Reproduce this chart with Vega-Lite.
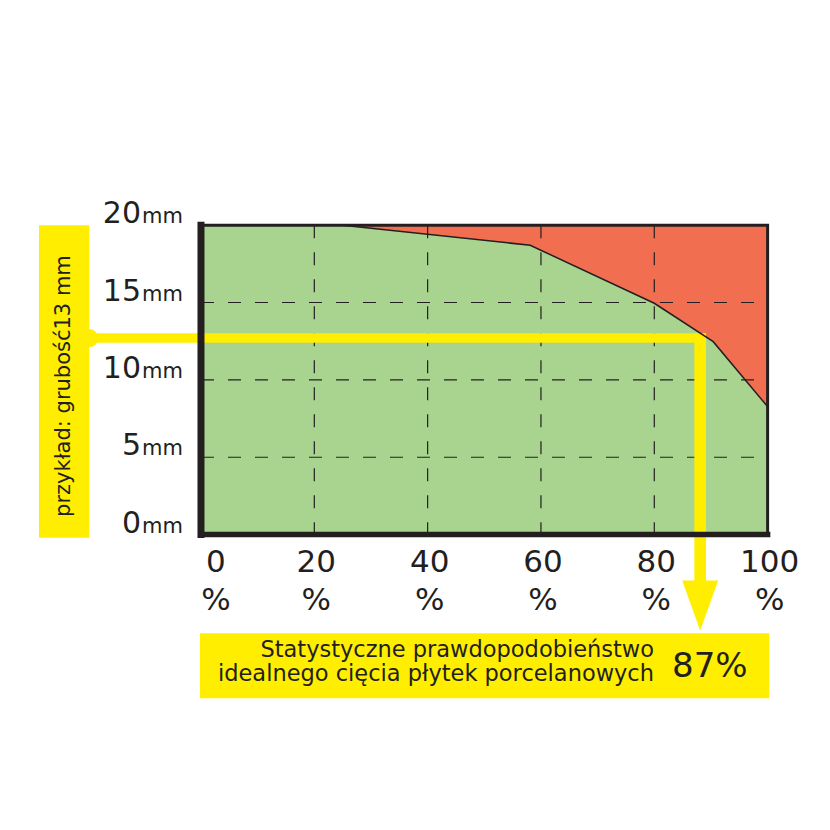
{
  "$schema": "https://vega.github.io/schema/vega-lite/v6.json",
  "width": 830,
  "height": 830,
  "autosize": {"type": "none"},
  "padding": 0,
  "background": "white",
  "config": {"view": {"stroke": null}, "text": {"font": "DejaVu Sans", "color": "#231F20"}},
  "datasets": {
    "boundary": [
      {"p": 0, "t": 20},
      {"p": 25, "t": 20},
      {"p": 58.1, "t": 18.7},
      {"p": 80, "t": 14.95},
      {"p": 90.4, "t": 12.47},
      {"p": 100, "t": 8.27}
    ],
    "hgrid": [{"t": 5}, {"t": 10}, {"t": 15}],
    "vgrid": [{"p": 20}, {"p": 40}, {"p": 60}, {"p": 80}],
    "ylabels": [
      {"t": 0, "n": "0"},
      {"t": 5, "n": "5"},
      {"t": 10, "n": "10"},
      {"t": 15, "n": "15"},
      {"t": 20, "n": "20"}
    ],
    "xlabels": [
      {"p": 0, "n": "0"},
      {"p": 20, "n": "20"},
      {"p": 40, "n": "40"},
      {"p": 60, "n": "60"},
      {"p": 80, "n": "80"},
      {"p": 100, "n": "100"}
    ],
    "one": [{"k": 1}],
    "caption": [{"lines": "Statystyczne prawdopodobieństwo\nidealnego cięcia płytek porcelanowych", "value": "87%", "example": "przykład: grubość13 mm"}]
  },
  "layer": [
    {
      "data": {"name": "one"},
      "mark": {"type": "rect", "color": "#FFEE00"},
      "encoding": {
        "x": {"datum": -0.18, "type": "quantitative", "scale": {"domain": [-35.47, 111.01], "nice": false, "zero": false}, "axis": null},
        "x2": {"datum": 100.3},
        "y": {"datum": -6.38, "type": "quantitative", "scale": {"domain": [-19.09, 34.55], "nice": false, "zero": false}, "axis": null},
        "y2": {"datum": -10.58}
      }
    },
    {
      "data": {"name": "one"},
      "mark": {"type": "rect", "color": "#FFEE00"},
      "encoding": {
        "x": {"datum": -28.59, "type": "quantitative"},
        "x2": {"datum": -19.71},
        "y": {"datum": -0.2, "type": "quantitative"},
        "y2": {"datum": 20}
      }
    },
    {
      "data": {"name": "one"},
      "mark": {"type": "rect", "color": "#A9D490"},
      "encoding": {
        "x": {"datum": 0, "type": "quantitative"},
        "x2": {"datum": 100},
        "y": {"datum": 0, "type": "quantitative"},
        "y2": {"datum": 20}
      }
    },
    {
      "data": {"name": "boundary"},
      "mark": {"type": "area", "color": "#F26E50", "interpolate": "linear"},
      "encoding": {
        "x": {"field": "p", "type": "quantitative"},
        "y": {"field": "t", "type": "quantitative"},
        "y2": {"datum": 20}
      }
    },
    {
      "data": {"name": "hgrid"},
      "mark": {"type": "rule", "color": "#231F20", "strokeWidth": 1.2, "strokeDash": [13, 14]},
      "encoding": {
        "x": {"datum": 0, "type": "quantitative"},
        "x2": {"datum": 100},
        "y": {"field": "t", "type": "quantitative"}
      }
    },
    {
      "data": {"name": "vgrid"},
      "mark": {"type": "rule", "color": "#231F20", "strokeWidth": 1.2, "strokeDash": [13, 14]},
      "encoding": {
        "x": {"field": "p", "type": "quantitative"},
        "y": {"datum": 20, "type": "quantitative"},
        "y2": {"datum": 0}
      }
    },
    {
      "data": {"name": "one"},
      "mark": {"type": "rule", "color": "#FFEE00", "strokeWidth": 9.5},
      "encoding": {
        "x": {"datum": -19.77, "type": "quantitative"},
        "x2": {"datum": 89.13},
        "y": {"datum": 12.7, "type": "quantitative"}
      }
    },
    {
      "data": {"name": "one"},
      "mark": {"type": "rule", "color": "#FFEE00", "strokeWidth": 11.7},
      "encoding": {
        "x": {"datum": 88.1, "type": "quantitative"},
        "y": {"datum": 13.0, "type": "quantitative"},
        "y2": {"datum": -3.0}
      }
    },
    {
      "data": {"name": "one"},
      "mark": {"type": "point", "shape": "circle", "filled": true, "color": "#FFEE00", "opacity": 1, "size": 324},
      "encoding": {
        "x": {"datum": -19.7, "type": "quantitative"},
        "y": {"datum": 12.7, "type": "quantitative"}
      }
    },
    {
      "data": {"name": "one"},
      "mark": {"type": "point", "shape": "M-0.72,-1L0.72,-1L0,1Z", "filled": true, "color": "#FFEE00", "opacity": 1, "size": 2500},
      "encoding": {
        "x": {"datum": 88.1, "type": "quantitative"},
        "y": {"datum": -4.58, "type": "quantitative"}
      }
    },
    {
      "data": {"name": "boundary"},
      "mark": {"type": "line", "color": "#231F20", "strokeWidth": 1.5},
      "encoding": {
        "x": {"field": "p", "type": "quantitative"},
        "y": {"field": "t", "type": "quantitative"}
      }
    },
    {
      "data": {"name": "one"},
      "mark": {"type": "rect", "fill": null, "fillOpacity": 0, "stroke": "#231F20", "strokeWidth": 3},
      "encoding": {
        "x": {"datum": 0, "type": "quantitative"},
        "x2": {"datum": 100},
        "y": {"datum": 0, "type": "quantitative"},
        "y2": {"datum": 20}
      }
    },
    {
      "data": {"name": "one"},
      "mark": {"type": "rule", "color": "#231F20", "strokeWidth": 7, "strokeCap": "square"},
      "encoding": {
        "x": {"datum": 0, "type": "quantitative"},
        "y": {"datum": 0, "type": "quantitative"},
        "y2": {"datum": 20}
      }
    },
    {
      "data": {"name": "one"},
      "mark": {"type": "rule", "color": "#231F20", "strokeWidth": 5.5, "strokeCap": "square"},
      "encoding": {
        "x": {"datum": 0, "type": "quantitative"},
        "x2": {"datum": 100},
        "y": {"datum": 0, "type": "quantitative"}
      }
    },
    {
      "data": {"name": "ylabels"},
      "mark": {"type": "text", "fontSize": 30, "align": "right", "baseline": "alphabetic", "dx": -60, "dy": -2},
      "encoding": {
        "x": {"datum": 0, "type": "quantitative"},
        "y": {"field": "t", "type": "quantitative"},
        "text": {"field": "n"}
      }
    },
    {
      "data": {"name": "ylabels"},
      "mark": {"type": "text", "fontSize": 21, "align": "left", "baseline": "alphabetic", "dx": -59, "dy": -2},
      "encoding": {
        "x": {"datum": 0, "type": "quantitative"},
        "y": {"field": "t", "type": "quantitative"},
        "text": {"value": "mm"}
      }
    },
    {
      "data": {"name": "xlabels"},
      "transform": [{"filter": "datum.p > 0"}],
      "mark": {"type": "text", "fontSize": 31, "align": "center", "baseline": "alphabetic", "dx": 2, "dy": 37},
      "encoding": {
        "x": {"field": "p", "type": "quantitative"},
        "y": {"datum": 0, "type": "quantitative"},
        "text": {"field": "n"}
      }
    },
    {
      "data": {"name": "xlabels"},
      "transform": [{"filter": "datum.p > 0"}],
      "mark": {"type": "text", "fontSize": 31, "align": "center", "baseline": "alphabetic", "dx": 2, "dy": 75},
      "encoding": {
        "x": {"field": "p", "type": "quantitative"},
        "y": {"datum": 0, "type": "quantitative"},
        "text": {"value": "%"}
      }
    },
    {
      "data": {"name": "xlabels"},
      "transform": [{"filter": "datum.p == 0"}],
      "mark": {"type": "text", "fontSize": 31, "align": "center", "baseline": "alphabetic", "dx": 15, "dy": 37},
      "encoding": {
        "x": {"field": "p", "type": "quantitative"},
        "y": {"datum": 0, "type": "quantitative"},
        "text": {"field": "n"}
      }
    },
    {
      "data": {"name": "xlabels"},
      "transform": [{"filter": "datum.p == 0"}],
      "mark": {"type": "text", "fontSize": 31, "align": "center", "baseline": "alphabetic", "dx": 15, "dy": 75},
      "encoding": {
        "x": {"field": "p", "type": "quantitative"},
        "y": {"datum": 0, "type": "quantitative"},
        "text": {"value": "%"}
      }
    },
    {
      "data": {"name": "caption"},
      "mark": {"type": "text", "fontSize": 22.5, "align": "right", "baseline": "alphabetic", "lineHeight": 24, "lineBreak": "\n"},
      "encoding": {
        "x": {"datum": 79.95, "type": "quantitative"},
        "y": {"datum": -7.9, "type": "quantitative"},
        "text": {"field": "lines"}
      }
    },
    {
      "data": {"name": "caption"},
      "mark": {"type": "text", "fontSize": 34, "align": "left", "baseline": "alphabetic"},
      "encoding": {
        "x": {"datum": 83.13, "type": "quantitative"},
        "y": {"datum": -9.18, "type": "quantitative"},
        "text": {"field": "value"}
      }
    },
    {
      "data": {"name": "caption"},
      "mark": {"type": "text", "fontSize": 21, "align": "center", "baseline": "middle", "angle": 270},
      "encoding": {
        "x": {"datum": -24.15, "type": "quantitative"},
        "y": {"datum": 9.6, "type": "quantitative"},
        "text": {"field": "example"}
      }
    }
  ]
}
